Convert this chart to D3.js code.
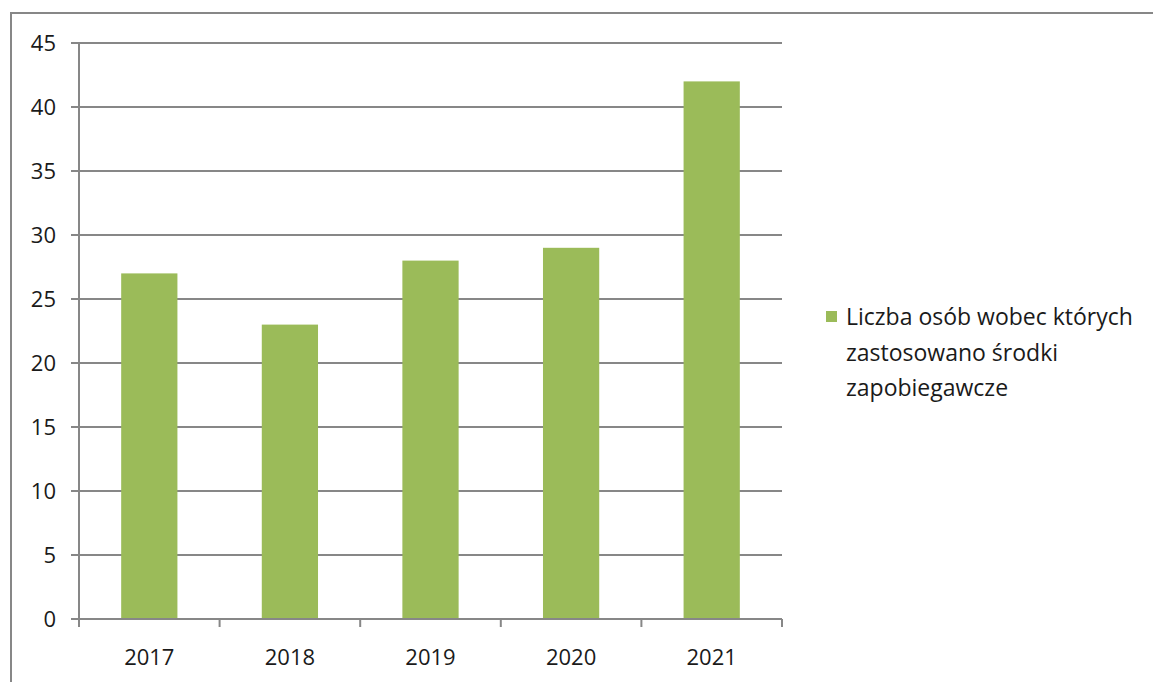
<!DOCTYPE html>
<html><head><meta charset="utf-8">
<script src="https://cdn.jsdelivr.net/npm/d3@7"></script>
<style>body{margin:0;background:#fff}svg{display:block}</style>
</head><body>
<svg id="c" width="1153" height="682"></svg>
<script>
const categories = ["2017","2018","2019","2020","2021"];
const values = [27,23,28,29,42];
const yTicks = [0,5,10,15,20,25,30,35,40,45];
const seriesName = ["Liczba osób wobec których","zastosowano środki","zapobiegawcze"];

const svg = d3.select("#c");
const font = "Open Sans, Liberation Sans, Arial, sans-serif";
const gray = "#878787";
// outer frame
svg.append("rect").attr("x",11).attr("y",13).attr("width",1160).attr("height",700)
  .attr("fill","none").attr("stroke",gray).attr("stroke-width",2);

const x = d3.scaleBand().domain(categories).range([79,782]).paddingInner(0.6).paddingOuter(0.3);
const xo = d3.scaleBand().domain(categories).range([79,782]);
const y = d3.scaleLinear().domain([0,45]).range([619,43]);

// gridlines
svg.append("g").selectAll("line").data(yTicks).join("line")
  .attr("x1",71).attr("x2",782).attr("y1",d=>y(d)).attr("y2",d=>y(d))
  .attr("stroke",gray).attr("stroke-width",2);
// y axis line
svg.append("line").attr("x1",79).attr("x2",79).attr("y1",43).attr("y2",619).attr("stroke",gray).attr("stroke-width",2);
// y labels
svg.append("g").selectAll("text").data(yTicks).join("text")
  .attr("x",56).attr("y",d=>y(d)).attr("dy","0.35em").attr("text-anchor","end")
  .attr("font-family",font).attr("font-size",22).attr("fill","#1a1a1a").text(d=>d);

// bars
svg.append("g").selectAll("rect").data(values).join("rect")
  .attr("x",(d,i)=>x(categories[i])).attr("width",x.bandwidth())
  .attr("y",d=>y(d)).attr("height",d=>y(0)-y(d)).attr("fill","#9BBB59");

// x axis
svg.append("line").attr("x1",79).attr("x2",782).attr("y1",619).attr("y2",619).attr("stroke",gray).attr("stroke-width",2);
const xticks = categories.map(c=>xo(c)).concat([782]);
svg.append("g").selectAll("line").data(xticks).join("line")
  .attr("x1",d=>d).attr("x2",d=>d).attr("y1",619).attr("y2",627).attr("stroke",gray).attr("stroke-width",2);
svg.append("g").selectAll("text").data(categories).join("text")
  .attr("x",d=>xo(d)+xo.bandwidth()/2).attr("y",657).attr("dy","0.35em").attr("text-anchor","middle")
  .attr("font-family",font).attr("font-size",22).attr("fill","#1a1a1a").text(d=>d);

// legend
svg.append("rect").attr("x",826).attr("y",311).attr("width",11).attr("height",11).attr("fill","#9BBB59");
svg.append("g").selectAll("text").data(seriesName).join("text")
  .attr("x",846).attr("y",(d,i)=>317+i*35.5).attr("dy","0.35em")
  .attr("font-family",font).attr("font-size",23).attr("fill","#1a1a1a").text(d=>d);
</script>
</body></html>
